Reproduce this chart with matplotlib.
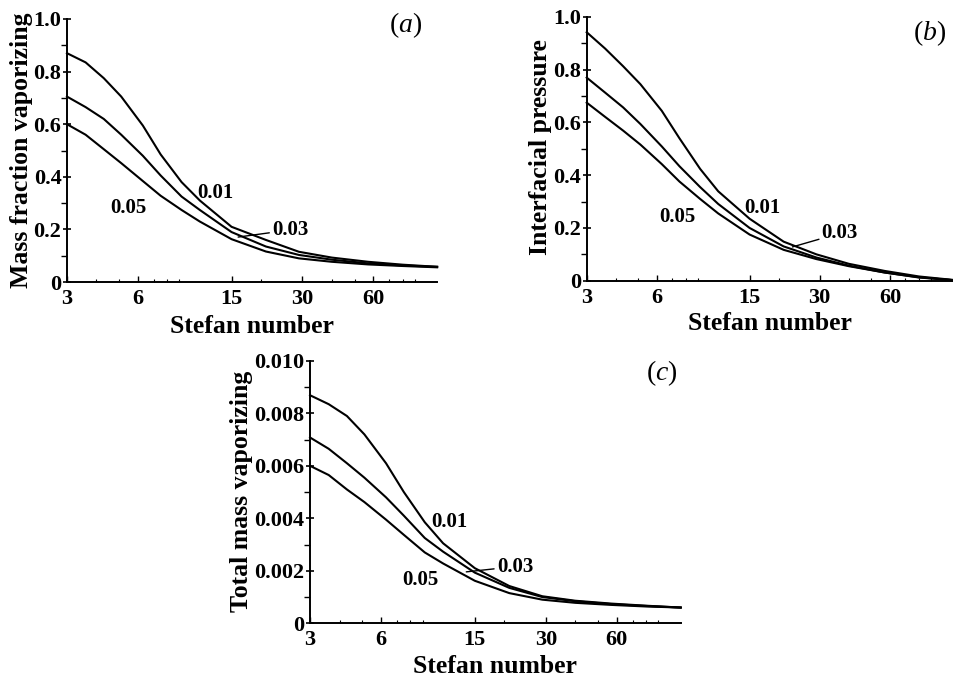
import numpy as np
import matplotlib
matplotlib.use("Agg")
from matplotlib import pyplot as plt
from matplotlib.ticker import FixedLocator, NullFormatter, MultipleLocator, LogLocator

plt.rcParams['font.family'] = ['Liberation Serif', 'DejaVu Serif']
plt.rcParams['font.weight'] = 'bold'
plt.rcParams['axes.labelweight'] = 'bold'
plt.rcParams['mathtext.fontset'] = 'custom'
plt.rcParams['mathtext.it'] = 'Liberation Serif:italic:normal'
plt.rcParams['mathtext.rm'] = 'Liberation Serif:normal'

# Stefan number
stefan = [3, 3.6, 4.3, 5.1, 6.3, 7.5, 9.2, 11, 15, 21, 29, 40, 57, 80, 112]
xticks = [3, 6, 15, 30, 60]
series_names = ['0.01', '0.03', '0.05']

# (a) mass fraction vaporizing
frac_001 = [0.87, 0.835, 0.775, 0.705, 0.595, 0.485, 0.38, 0.31, 0.21, 0.16, 0.115, 0.093, 0.077, 0.066, 0.058]
frac_003 = [0.705, 0.665, 0.62, 0.56, 0.48, 0.405, 0.325, 0.274, 0.19, 0.135, 0.103, 0.085, 0.071, 0.063, 0.058]
frac_005 = [0.60, 0.56, 0.505, 0.452, 0.384, 0.328, 0.274, 0.23, 0.163, 0.116, 0.09, 0.077, 0.067, 0.061, 0.056]

# (b) interfacial pressure
pres_001 = [0.942, 0.88, 0.813, 0.745, 0.644, 0.54, 0.424, 0.339, 0.235, 0.148, 0.1, 0.064, 0.037, 0.016, 0.003]
pres_003 = [0.77, 0.713, 0.657, 0.594, 0.509, 0.434, 0.355, 0.291, 0.2, 0.13, 0.088, 0.057, 0.031, 0.013, 0.002]
pres_005 = [0.675, 0.621, 0.569, 0.516, 0.442, 0.376, 0.31, 0.255, 0.175, 0.117, 0.082, 0.055, 0.031, 0.012, 0.002]

# (c) total mass vaporizing
mass_001 = [0.00869, 0.00835, 0.0079, 0.0072, 0.0061, 0.0050, 0.00385, 0.00305, 0.0021, 0.00142, 0.00103, 0.00086, 0.00075, 0.00067, 0.0006]
mass_003 = [0.00708, 0.00665, 0.0061, 0.00555, 0.0048, 0.0041, 0.00325, 0.00273, 0.00193, 0.00135, 0.001, 0.00084, 0.00073, 0.00066, 0.0006]
mass_005 = [0.006, 0.00565, 0.0051, 0.00462, 0.00395, 0.00337, 0.0027, 0.00228, 0.00162, 0.00115, 0.0009, 0.00078, 0.0007, 0.00064, 0.0006]

fig = plt.figure(figsize=(9.54, 6.78), dpi=100)
ax_a = fig.add_axes([0.0702, 0.584, 0.388, 0.388])
ax_b = fig.add_axes([0.615, 0.586, 0.384, 0.389])
ax_c = fig.add_axes([0.325, 0.0807, 0.3885, 0.387])


def style_axis(ax, ylim, ymajor, yminor, yfmt, ylabel, ylab_xy, xlab_y, tag, tag_xy):
    ax.set_xscale('log')
    ax.set_xlim(3, 112)
    ax.set_ylim(*ylim)
    for s in ['top', 'right']:
        ax.spines[s].set_visible(False)
    for s in ['left', 'bottom']:
        ax.spines[s].set_linewidth(1.4)
    ax.xaxis.set_major_locator(FixedLocator(xticks))
    ax.xaxis.set_major_formatter(plt.FixedFormatter([str(t) for t in xticks]))
    ax.xaxis.set_minor_locator(LogLocator(base=10, subs=np.arange(2, 10)))
    ax.xaxis.set_minor_formatter(NullFormatter())
    ax.yaxis.set_major_locator(MultipleLocator(ymajor))
    ax.yaxis.set_minor_locator(MultipleLocator(yminor))
    ax.yaxis.set_major_formatter(plt.FuncFormatter(yfmt))
    ax.tick_params(axis='y', which='major', direction='inout', length=6, width=1.2, labelsize=16, pad=1)
    ax.tick_params(axis='y', which='minor', direction='out', length=4, width=1.0)
    ax.tick_params(axis='x', which='major', direction='in', length=4, width=1.0, labelsize=16, pad=5)
    ax.tick_params(axis='x', which='minor', direction='in', length=2, width=0.8)
    ax.set_xlabel('Stefan number', fontsize=18.5)
    ax.xaxis.set_label_coords(0.5, xlab_y)
    ax.set_ylabel(ylabel, fontsize=18.5)
    ax.yaxis.set_label_coords(*ylab_xy)
    ax.text(tag_xy[0], tag_xy[1], tag, transform=ax.transAxes, fontsize=20,
            fontweight='normal', ha='center', va='center')


def fmt1(v, pos):
    return '0' if abs(v) < 1e-9 else '%.1f' % v


def fmt3(v, pos):
    return '0' if abs(v) < 1e-12 else '%.3f' % v


lw = 1.5
for ys in [frac_001, frac_003, frac_005]:
    ax_a.plot(stefan, ys, color='black', lw=lw)
for ys in [pres_001, pres_003, pres_005]:
    ax_b.plot(stefan, ys, color='black', lw=lw)
for ys in [mass_001, mass_003, mass_005]:
    ax_c.plot(stefan, ys, color='black', lw=lw)

style_axis(ax_a, (0, 1.0), 0.2, 0.1, fmt1, 'Mass fraction vaporizing', (-0.092, 0.5), -0.125,
           r'$\mathrm{(}a\mathrm{)}$', (0.914, 0.975))
style_axis(ax_b, (0, 1.0), 0.2, 0.1, fmt1, 'Interfacial pressure', (-0.096, 0.505), -0.118,
           r'$\mathrm{(}b\mathrm{)}$', (0.937, 0.94))
style_axis(ax_c, (0, 0.010), 0.002, 0.001, fmt3, 'Total mass vaporizing', (-0.154, 0.504), -0.122,
           r'$\mathrm{(}c\mathrm{)}$', (0.949, 0.953))

fs = 15
# curve labels
ax_a.text(12.8, 0.338, series_names[0], fontsize=fs, ha='center', va='center')
ax_a.text(5.45, 0.281, series_names[2], fontsize=fs, ha='center', va='center')
ax_a.annotate(series_names[1], xy=(16.0, 0.171), xytext=(22.3, 0.198), fontsize=fs,
              ha='left', va='center', arrowprops=dict(arrowstyle='-', lw=1.0, shrinkA=0, shrinkB=0))

ax_b.text(17.0, 0.275, series_names[0], fontsize=fs, ha='center', va='center')
ax_b.text(7.37, 0.241, series_names[2], fontsize=fs, ha='center', va='center')
ax_b.annotate(series_names[1], xy=(22.9, 0.128), xytext=(30.6, 0.18), fontsize=fs,
              ha='left', va='center', arrowprops=dict(arrowstyle='-', lw=1.0, shrinkA=0, shrinkB=0))

ax_c.text(11.7, 0.00387, series_names[0], fontsize=fs, ha='center', va='center')
ax_c.text(8.77, 0.00165, series_names[2], fontsize=fs, ha='center', va='center')
ax_c.annotate(series_names[1], xy=(13.8, 0.00196), xytext=(18.6, 0.00216), fontsize=fs,
              ha='left', va='center', arrowprops=dict(arrowstyle='-', lw=1.0, shrinkA=0, shrinkB=0))

for ax in [ax_a, ax_b, ax_c]:
    ax.patch.set_alpha(0)
    for line in ax.lines:
        line.set_clip_on(False)

fig.savefig('out.png', dpi=100)
